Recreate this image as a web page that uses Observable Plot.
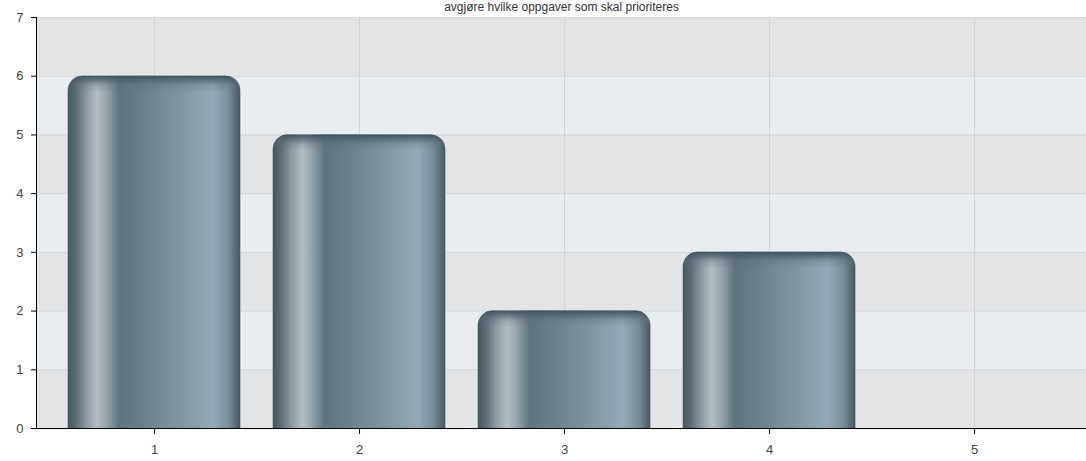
<!DOCTYPE html>
<html>
<head>
<meta charset="utf-8">
<script src="https://cdn.jsdelivr.net/npm/d3@7"></script>
<script src="https://cdn.jsdelivr.net/npm/@observablehq/plot@0.6"></script>
<style>
  html, body { margin: 0; padding: 0; background: #fff; }
  #chart { width: 1086px; height: 461px; overflow: hidden; }
  svg { font-family: "Liberation Sans", Arial, sans-serif; }
</style>
</head>
<body>
<div id="chart"></div>
<script>
const title = "avgjøre hvilke oppgaver som skal prioriteres";
const categories = [1, 2, 3, 4, 5];
const values = [6, 5, 2, 3, 0];
const yTicks = [0, 1, 2, 3, 4, 5, 6, 7];

const data = categories.map((c, i) => ({cat: c, value: values[i]}));
const barsData = data.filter(d => d.value > 0);
const bands = yTicks.slice(0, -1).map(t => ({lo: t, hi: t + 1, odd: t % 2 === 1}));
const halfW = 0.421;

const chart = Plot.plot({
  width: 1086,
  height: 461,
  marginLeft: 36,
  marginRight: 0,
  marginTop: 17,
  marginBottom: 33,
  style: {fontFamily: "'Liberation Sans', Arial, sans-serif", fontSize: "13px", color: "#444", background: "transparent", overflow: "visible"},
  x: {type: "linear", domain: [0.4244, 5.546]},
  y: {domain: [0, 7]},
  marks: [
    Plot.rect(bands, {y1: "lo", y2: "hi", fill: d => d.odd ? "#e9edf0" : "#e3e4e6"}),
    Plot.ruleY(yTicks.slice(1), {stroke: "#d3d5d8", strokeWidth: 1}),
    Plot.ruleX(categories, {stroke: "#d3d3d3", strokeWidth: 1}),
    // bar body with rounded top corners (bottom corners pushed below the frame and clipped)
    Plot.rect(barsData, {x1: d => d.cat - halfW, x2: d => d.cat + halfW, y1: 0, y2: "value", insetBottom: -20, rx: 15, clip: true, fill: "url(#barGrad)"}),
    // darker top edge
    Plot.rect(barsData, {x1: d => d.cat - halfW, x2: d => d.cat + halfW, y1: "value", y2: "value", insetBottom: -34, rx: 15, fill: "url(#topGrad)"}),
    Plot.ruleX([0.4244], {stroke: "#000", strokeWidth: 1}),
    Plot.ruleY([0], {stroke: "#000", strokeWidth: 1.2}),
    Plot.axisY(yTicks, {tickSize: 5, tickPadding: 8, stroke: "#000", fontSize: 13, fill: "#444", tickFormat: d => String(d)}),
    Plot.axisX(categories, {tickSize: 6, tickPadding: 10, stroke: "#000", fontSize: 13, fill: "#444", tickFormat: d => String(d)}),
    Plot.text([title], {frameAnchor: "top", lineAnchor: "top", dy: -15, fontSize: 12, fill: "#333"})
  ]
});

const svg = d3.select(chart);
const defs = svg.insert("defs", ":first-child");
const g = defs.append("linearGradient").attr("id", "barGrad").attr("x1", 0).attr("x2", 1).attr("y1", 0).attr("y2", 0);
[
  [0, "#44555e"], [0.05, "#5b6e78"], [0.11, "#8f9ca3"], [0.17, "#b4bdc1"], [0.22, "#9aa7ae"],
  [0.30, "#5f737e"], [0.45, "#6c818c"], [0.65, "#80959f"], [0.84, "#94aab6"], [0.93, "#7a8e99"], [1, "#46575f"]
].forEach(([o, c]) => g.append("stop").attr("offset", o).attr("stop-color", c));
const t = defs.append("linearGradient").attr("id", "topGrad").attr("x1", 0).attr("x2", 0).attr("y1", 0).attr("y2", 1);
[
  [0, "#3e505a", 0.95], [0.12, "#4a5d68", 0.75], [0.3, "#5a6d78", 0.25], [0.5, "#5a6d78", 0]
].forEach(([o, c, op]) => t.append("stop").attr("offset", o).attr("stop-color", c).attr("stop-opacity", op));

document.getElementById("chart").appendChild(chart);
</script>
</body>
</html>
